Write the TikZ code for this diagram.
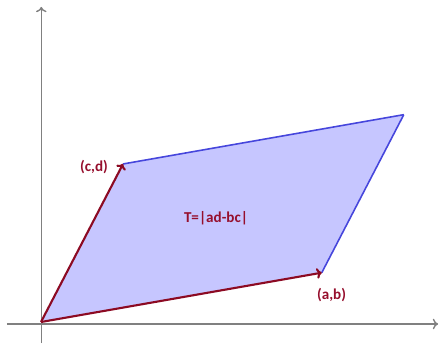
\documentclass[tikz,border=0pt]{standalone}
\usepackage{fontspec}
\setmainfont{Carlito}
\definecolor{vecred}{RGB}{140,10,35}
\definecolor{labred}{RGB}{150,15,45}
\definecolor{areafill}{RGB}{198,198,255}
\definecolor{areaedge}{RGB}{70,70,220}
\definecolor{axisgray}{RGB}{128,128,128}
\tikzset{
  vec/.style={vecred, line width=1.2pt, -{To[length=3pt,width=6pt]}},
  edge/.style={areaedge, line width=0.9pt},
  axis/.style={axisgray, line width=0.8pt, -{To[length=3pt,width=6pt]}},
  lab/.style={labred, font=\fontsize{8.6}{10}\selectfont\bfseries, inner sep=0pt}
}
\usetikzlibrary{arrows.meta}
\begin{document}
\begin{tikzpicture}[scale=0.02]
      \useasboundingbox (-41,-21) rectangle (398,322);
      \coordinate (O) at (0, 0);
      \coordinate (A) at (280.7, 49.3);
      \coordinate (C) at (82, 158);
      \coordinate (S) at (362.7, 207.3);
      \coordinate (X_1) at (-34, -2);
      \coordinate (X_2) at (397, -2);
      \coordinate (Y_1) at (0.3, -21);
      \coordinate (Y_2) at (0.3, 315);
      \fill[areafill] (O) -- (A) -- (S) -- (C) -- cycle;
      \draw[edge] (A) -- (S);
      \draw[edge] (S) -- (C);
      \draw[axis] (X_1) -- (X_2);
      \draw[axis] (Y_1) -- (Y_2);
      \draw[vec] (O) -- (A);
      \draw[vec] (O) -- (C);
      \node[lab] (ablabel) at (290.5, 27) {(a,b)};
      \node[lab] (cdlabel) at (53, 155) {(c,d)};
      \node[lab] (area) at (175, 104) {T=|ad-bc|};
    \end{tikzpicture}
\end{document}
